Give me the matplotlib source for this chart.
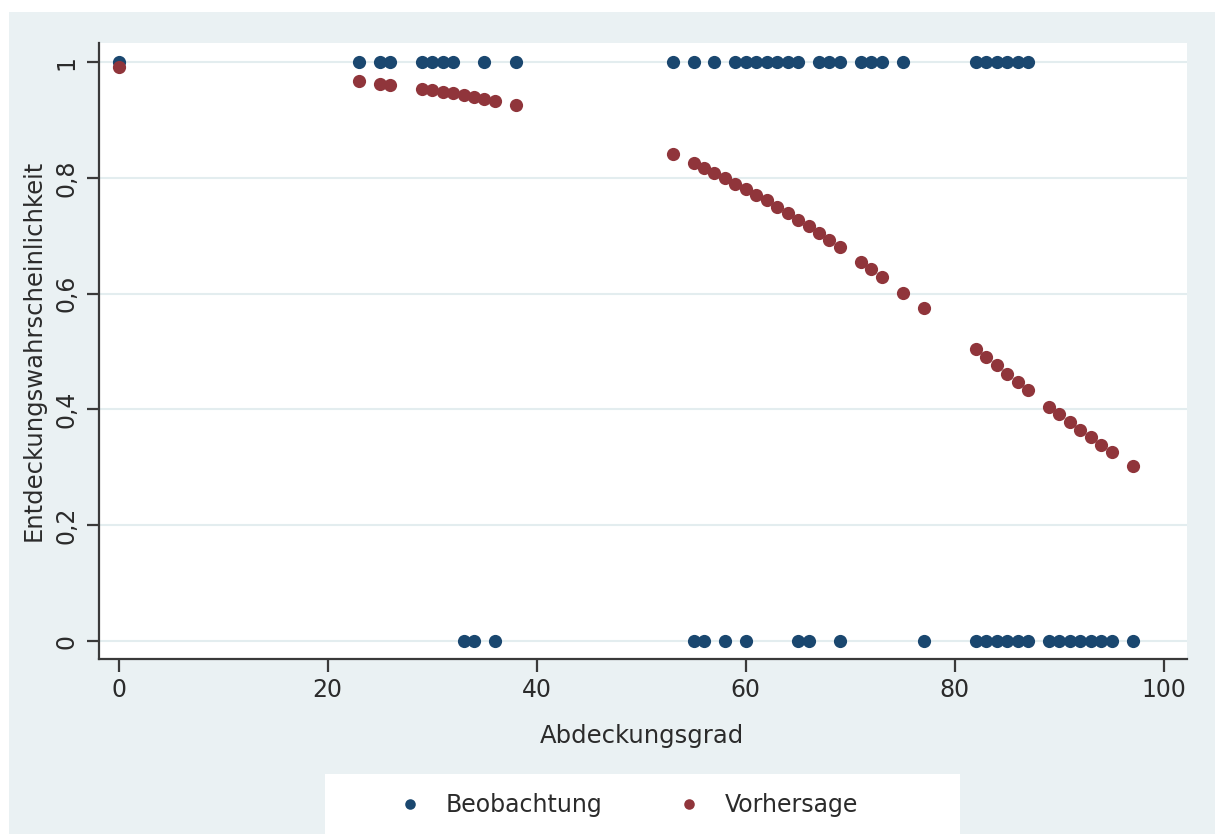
import matplotlib
matplotlib.use('Agg')
import matplotlib.pyplot as plt
from matplotlib.patches import Rectangle

# observed outcome (1 = entdeckt, 0 = nicht entdeckt)
obs_x = [0, 23, 25, 26, 29, 30, 31, 32, 35, 38,
         53, 55, 57, 59, 60, 61, 62, 63, 64, 65, 67, 68, 69, 71, 72, 73, 75,
         82, 83, 84, 85, 86, 87,
         33, 34, 36, 55, 56, 58, 60, 65, 66, 69, 77,
         82, 83, 84, 85, 86, 87, 89, 90, 91, 92, 93, 94, 95, 97]
obs_y = [1] * 33 + [0] * 25

# predicted probability
pred_x = [0, 23, 25, 26, 29, 30, 31, 32, 33, 34, 35, 36, 38,
          53, 55, 56, 57, 58, 59, 60, 61, 62, 63, 64, 65, 66, 67, 68, 69,
          71, 72, 73, 75, 77,
          82, 83, 84, 85, 86, 87, 89, 90, 91, 92, 93, 94, 95, 97]
pred_p = [0.991, 0.967, 0.963, 0.961, 0.954, 0.952, 0.949, 0.946, 0.943, 0.940, 0.937, 0.933, 0.926,
          0.841, 0.826, 0.817, 0.809, 0.800, 0.790, 0.781, 0.771, 0.761, 0.750, 0.739, 0.728, 0.717,
          0.705, 0.693, 0.681,
          0.655, 0.642, 0.629, 0.602, 0.575,
          0.504, 0.490, 0.476, 0.461, 0.447, 0.433, 0.405, 0.392, 0.378, 0.365, 0.352, 0.339, 0.326, 0.302]

yticks = [0, 0.2, 0.4, 0.6, 0.8, 1]
ytick_labels = ['0', '0,2', '0,4', '0,6', '0,8', '1']
xticks = [0, 20, 40, 60, 80, 100]

bg = '#EAF1F3'
txt = '#2b2b2b'
line = '#3a3a3a'

fig = plt.figure(figsize=(12.15, 8.34), dpi=100, facecolor='white')
fig.patches.append(Rectangle((9 / 1215, 0), 1206 / 1215, 822 / 834,
                             transform=fig.transFigure, facecolor=bg, edgecolor='none', zorder=-10))
fig.patches.append(Rectangle((325 / 1215, 0), 635 / 1215, 60 / 834,
                             transform=fig.transFigure, facecolor='white', edgecolor='none', zorder=-9))

ax = fig.add_axes([99 / 1215, 1 - 659 / 834, (1187 - 99) / 1215, (659 - 43) / 834])
ax.set_facecolor('white')

ax.plot(obs_x, obs_y, 'o', color='#1A476F', ms=9.5, mew=0, label='Beobachtung', clip_on=False, zorder=3)
ax.plot(pred_x, pred_p, 'o', color='#90353B', ms=9.5, mew=0, label='Vorhersage', clip_on=False, zorder=4)

ax.set_xlim(-1.87, 102.2)
ax.set_ylim(-0.031, 1.033)
ax.set_yticks(yticks)
ax.set_yticklabels(ytick_labels, rotation=90, va='center')
ax.set_xticks(xticks)

for s in ['top', 'right']:
    ax.spines[s].set_visible(False)
for s in ['left', 'bottom']:
    ax.spines[s].set_color(line)
    ax.spines[s].set_linewidth(1.6)

ax.yaxis.grid(True, color='#E3EDEF', linewidth=1.5)
ax.set_axisbelow(True)
ax.tick_params(axis='both', colors=line, width=1.6, length=9, labelsize=17, labelcolor=txt)
ax.tick_params(axis='x', pad=5)
ax.tick_params(axis='y', pad=6)

ax.set_xlabel('Abdeckungsgrad', fontsize=17.5, color=txt, va='center')
ax.xaxis.set_label_coords((642 - 99) / (1187 - 99), -(736 - 659) / (659 - 43))
ax.set_ylabel('Entdeckungswahrscheinlichkeit', fontsize=17.5, color=txt, va='center')
ax.yaxis.set_label_coords(-(99 - 34) / (1187 - 99), (659 - 350) / (659 - 43))

fig.legend(loc='center left', bbox_to_anchor=(398 / 1215, 29 / 834), ncol=2, frameon=False,
           fontsize=17, handlelength=1.0, handletextpad=1.0, columnspacing=3.2,
           borderpad=0, borderaxespad=0, markerscale=0.8, labelcolor=txt)

fig.savefig('out.png', dpi=100, facecolor=fig.get_facecolor())
